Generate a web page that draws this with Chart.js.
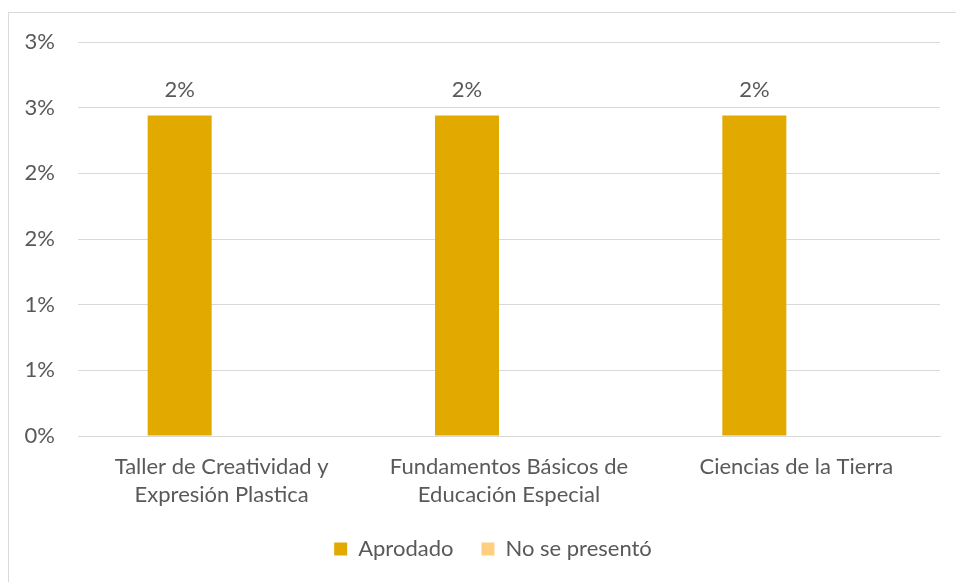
<!DOCTYPE html>
<html>
<head>
<meta charset="utf-8">
<script src="https://cdn.jsdelivr.net/npm/chart.js@4/dist/chart.umd.min.js"></script>
<style>
  html, body { margin: 0; padding: 0; background: #ffffff; }
  #wrap { position: relative; width: 956px; height: 582px; overflow: hidden; }
  #frame { position: absolute; left: 8px; top: 12px; width: 960px; height: 580px; border: 1px solid #D9D9D9; box-sizing: border-box; }
  #c { position: absolute; left: 0; top: 0; }
</style>
</head>
<body>
<div id="wrap">
  <div id="frame"></div>
  <canvas id="c" width="956" height="582"></canvas>
</div>
<script>
const categories = [
  ["Taller de Creatividad y", "Expresión Plastica"],
  ["Fundamentos Básicos de", "Educación Especial"],
  ["Ciencias de la Tierra"]
];
const seriesNames = ["Aprodado", "No se presentó"];
const aprobadoValues = [2.44, 2.44, 2.44];
const noSePresentoValues = [null, null, null];
const yTicks = { min: 0, max: 3, step: 0.5 };

const textColor = "#595959";
const fontFamily = "Lato, 'Open Sans', sans-serif";
const fontSize = 22;

const valueLabels = {
  id: "valueLabels",
  afterDatasetsDraw(chart) {
    const ctx = chart.ctx;
    ctx.save();
    ctx.font = fontSize + "px " + fontFamily;
    ctx.fillStyle = textColor;
    ctx.textAlign = "center";
    ctx.textBaseline = "middle";
    chart.data.datasets.forEach((ds, di) => {
      if (di !== 0) return;
      const meta = chart.getDatasetMeta(di);
      meta.data.forEach((el, i) => {
        const v = ds.data[i];
        if (v === null || v === undefined) return;
        ctx.fillText(Math.round(v) + "%", el.x, el.y - 26);
      });
    });
    ctx.restore();
  }
};

// shift the legend block slightly right, as in the original layout
const legendShift = {
  id: "legendShift",
  beforeDraw(chart) {
    if (chart.legend && !chart.legend._shifted) {
      chart.legend.left += 23;
      chart.legend.right += 23;
      chart.legend._shifted = true;
    }
  }
};

new Chart(document.getElementById("c"), {
  type: "bar",
  data: {
    labels: categories,
    datasets: [
      { label: seriesNames[0], data: aprobadoValues, backgroundColor: "#E2AA00", borderWidth: 0 },
      { label: seriesNames[1], data: noSePresentoValues, backgroundColor: "#FFCF7F", borderWidth: 0 }
    ]
  },
  options: {
    responsive: false,
    animation: false,
    devicePixelRatio: 1,
    layout: { padding: { top: 42, right: 16, bottom: 12, left: 0 } },
    datasets: { bar: { categoryPercentage: 0.5847, barPercentage: 0.762 } },
    plugins: {
      legend: {
        position: "bottom",
        labels: {
          color: textColor,
          font: { size: fontSize, family: fontFamily },
          boxWidth: 13,
          boxHeight: 13,
          padding: 28
        }
      },
      tooltip: { enabled: false }
    },
    scales: {
      x: {
        grid: { display: false, drawTicks: false },
        border: { display: true, color: "#D9D9D9" },
        ticks: {
          color: textColor,
          font: { size: fontSize, family: fontFamily, lineHeight: 1.27 },
          padding: 17,
          maxRotation: 0,
          autoSkip: false
        },
        afterFit(scale) { scale.height = 74; }
      },
      y: {
        min: yTicks.min,
        max: yTicks.max,
        grid: { color: "#D9D9D9", drawTicks: false },
        border: { display: false },
        ticks: {
          stepSize: yTicks.step,
          color: textColor,
          font: { size: fontSize, family: fontFamily },
          padding: 23,
          callback: (v) => Math.round(v) + "%"
        },
        afterFit(scale) { scale.width = 78; }
      }
    }
  },
  plugins: [valueLabels, legendShift]
});
</script>
</body>
</html>
